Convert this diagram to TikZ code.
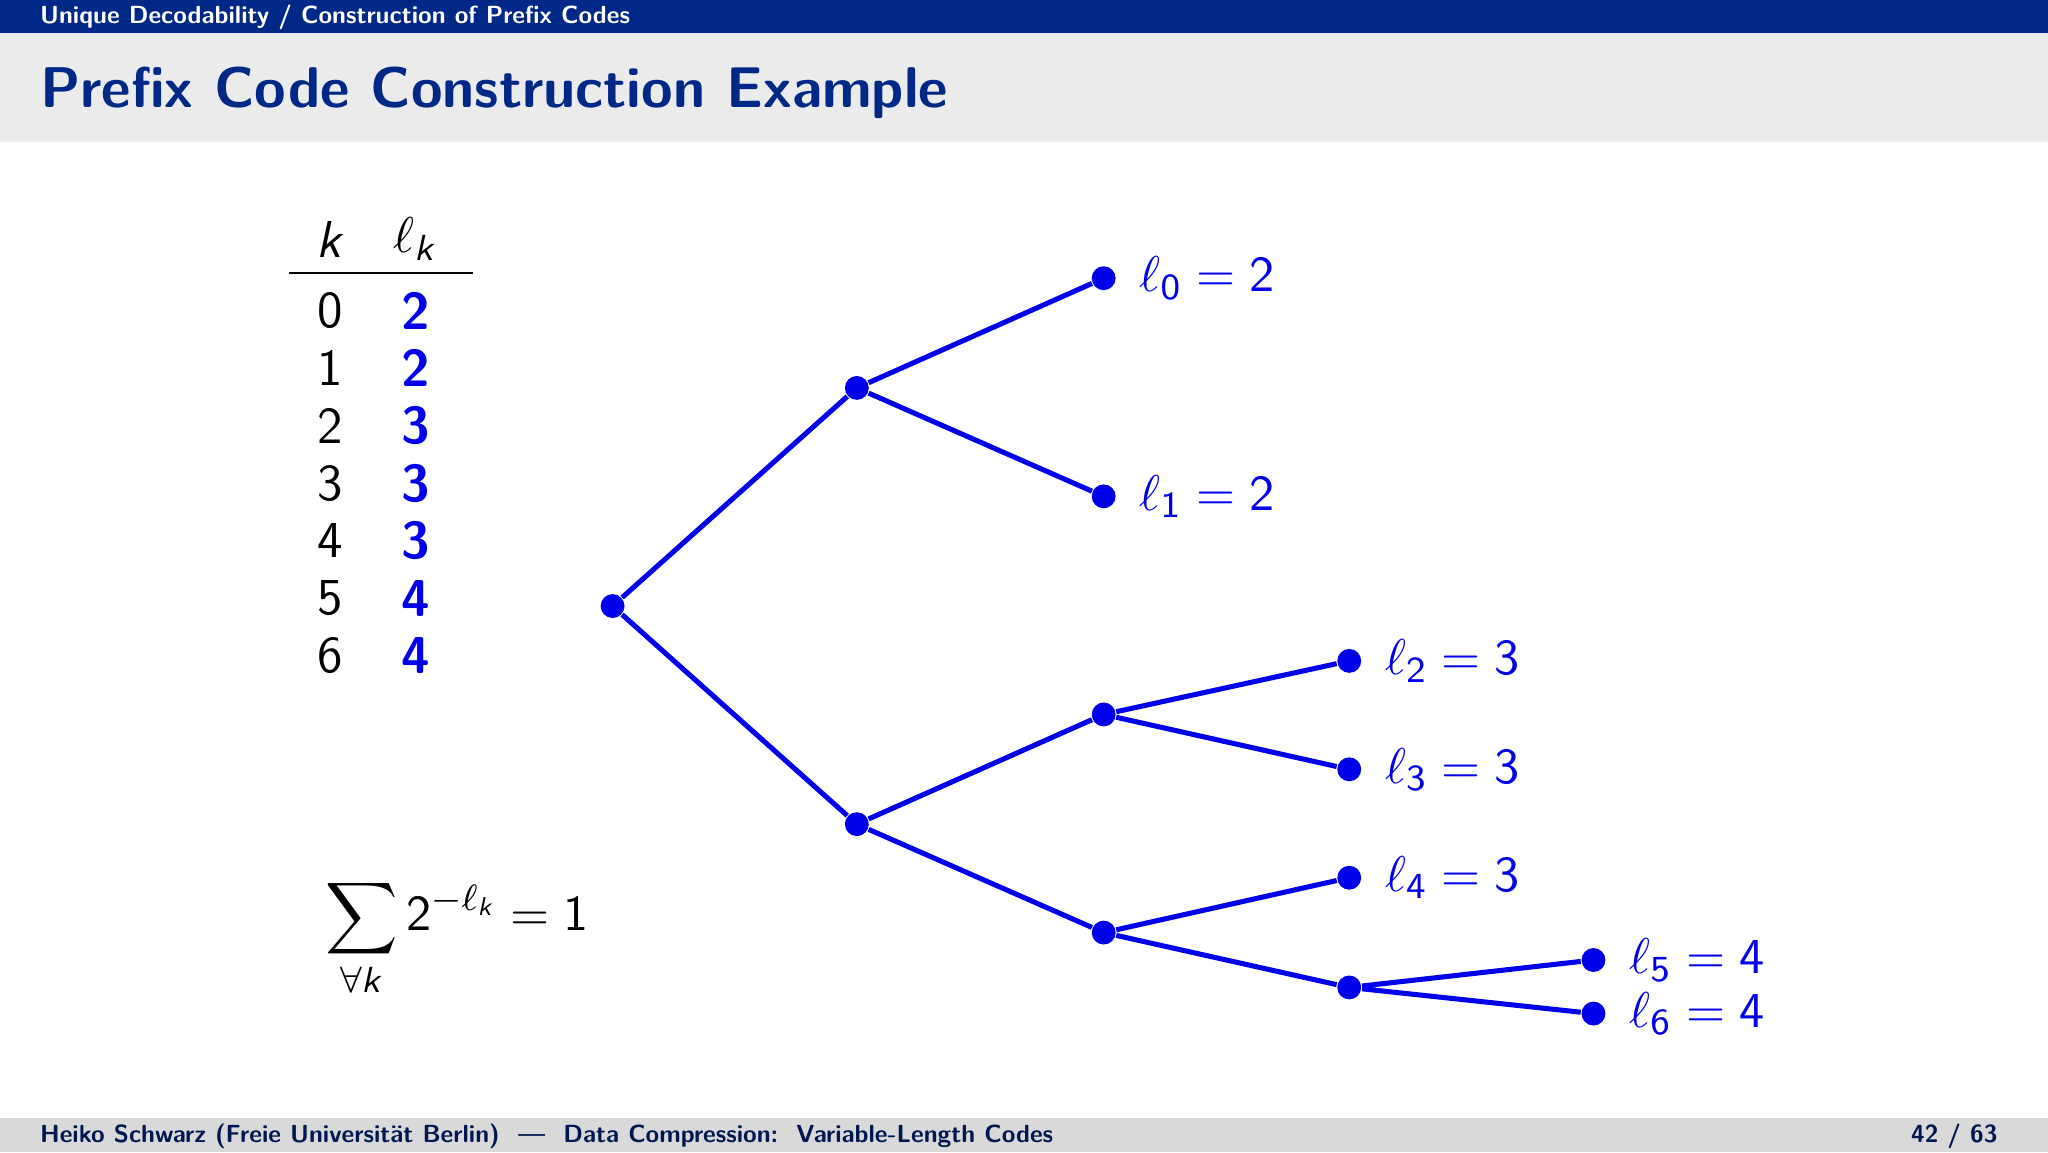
\documentclass[tikz,border=0pt]{standalone}
\usepackage{amsmath}
\renewcommand{\familydefault}{\sfdefault}
\definecolor{hdr}{RGB}{0,40,135}
\definecolor{band}{RGB}{235,235,235}
\definecolor{foot}{RGB}{217,217,217}
\definecolor{tb}{RGB}{0,0,235}
\newcommand{\sk}{\textsf{\textit{k}}}
\tikzset{
 dot/.style={circle,fill=tb,inner sep=0pt,minimum size=5.2pt},
 edge/.style={tb,line width=1.1pt},
 lab/.style={text=tb,anchor=west,inner sep=0pt,font=\fontsize{11.3}{13}\selectfont},
 cell/.style={font=\fontsize{11.3}{13}\selectfont,anchor=center},
 small/.style={inner sep=0pt,font=\fontsize{5.4}{6.5}\selectfont\bfseries},
}
\newcommand{\Y}[1]{8.82-#1/100}
\begin{document}
\begin{tikzpicture}[x=1cm,y=1cm]
\useasboundingbox (0,0) rectangle (15.68,8.82);
\fill[hdr] (0,{\Y{0}}) rectangle (15.68,{\Y{25}});
\fill[band] (0,{\Y{25}}) rectangle (15.68,{\Y{109}});
\fill[foot] (0,{\Y{856}}) rectangle (15.68,0);
\node[small,anchor=west,text=white] (hd) at (0.3,{\Y{13}}) {Unique Decodability / Construction of Prefix Codes};
\node[anchor=west,inner sep=0pt,text=hdr,font=\fontsize{12.5}{15}\selectfont\bfseries] (tt) at (0.3,{\Y{71}}) {Prefix Code Construction Example};
\node[small,anchor=west,text=hdr!60!black] (ft) at (0.3,{\Y{870}}) {Heiko Schwarz (Freie Universit\"at Berlin) \ --- \ Data Compression:\ \ Variable-Length Codes};
\node[small,anchor=east,text=hdr!60!black] (pg) at (15.3,{\Y{870}}) {42 / 63};
% table
\node[cell] (hk) at (2.53,{\Y{183}}) {$\sk$};
\node[cell] (hl) at (3.18,{\Y{183}}) {$\ell_{\sk}$};
\draw[line width=0.6pt] (2.21,{\Y{209}}) coordinate (t1) -- (3.62,{\Y{209}}) coordinate (t2);
\foreach \k/\l/\yy in {0/2/238,1/2/282,2/3/326,3/3/370,4/3/414,5/4/458,6/4/502}{
 \node[cell] (k\k) at (2.53,{\Y{\yy}}) {\k};
 \node[cell,text=tb] (l\k) at (3.18,{\Y{\yy}}) {\textbf{\l}};
}
\node[cell] (sum) at (3.5,{\Y{718}}) {$\displaystyle\sum_{\forall \sk} \mathsf{2}^{-\ell_{\sk}}=\mathsf{1}$};
% tree
\node[dot] (r) at (4.69,{\Y{464}}) {};
\node[dot] (a) at (6.56,{\Y{297}}) {};
\node[dot] (b) at (6.56,{\Y{631}}) {};
\node[dot] (n0) at (8.45,{\Y{213}}) {};
\node[dot] (n1) at (8.45,{\Y{380}}) {};
\node[dot] (c) at (8.45,{\Y{547}}) {};
\node[dot] (d) at (8.45,{\Y{714}}) {};
\node[dot] (n2) at (10.33,{\Y{506}}) {};
\node[dot] (n3) at (10.33,{\Y{589}}) {};
\node[dot] (n4) at (10.33,{\Y{672}}) {};
\node[dot] (e) at (10.33,{\Y{756}}) {};
\node[dot] (n5) at (12.2,{\Y{735}}) {};
\node[dot] (n6) at (12.2,{\Y{776}}) {};
\draw[edge] (r)--(a) (r)--(b) (a)--(n0) (a)--(n1) (b)--(c) (b)--(d)
 (c)--(n2) (c)--(n3) (d)--(n4) (d)--(e) (e)--(n5) (e)--(n6);
\foreach \i/\v in {0/2,1/2,2/3,3/3,4/3,5/4,6/4}{
 \node[lab] (t\i) at ([xshift=0.17cm]n\i.east) {$\ell_{\mathsf{\i}}=\mathsf{\v}$};
}
\end{tikzpicture}
\end{document}
